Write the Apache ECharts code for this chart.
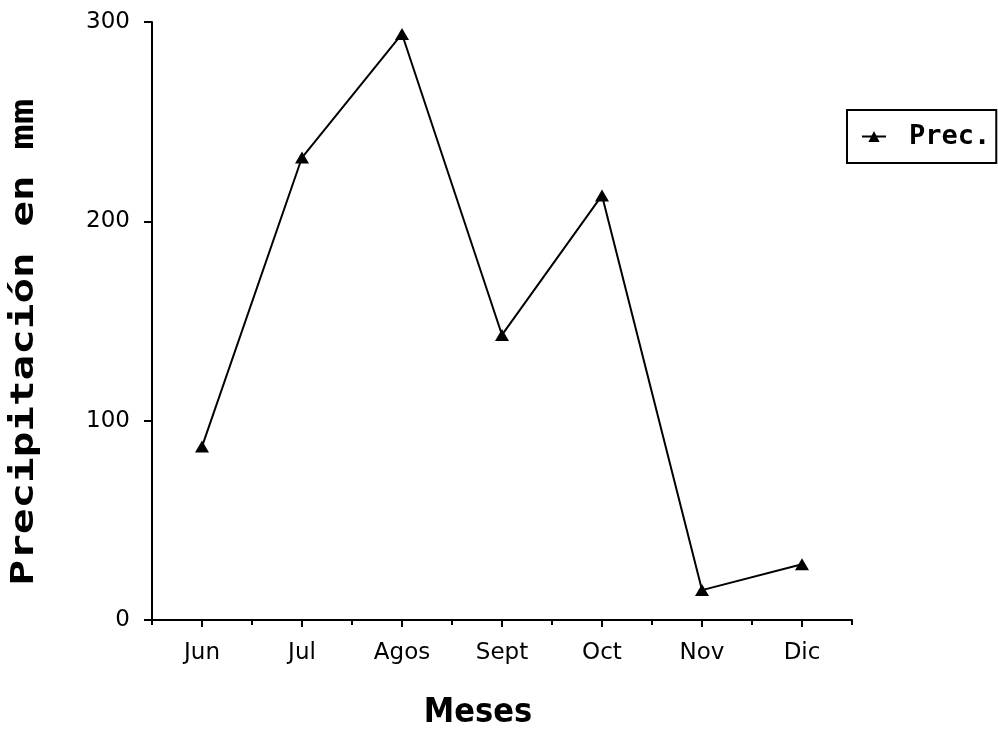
<!DOCTYPE html>
<html>
<head>
<meta charset="utf-8">
<script src="https://cdn.jsdelivr.net/npm/echarts@6/dist/echarts.min.js"></script>
<style>
html,body{margin:0;padding:0;background:#fff;}
#c{width:998px;height:736px;}
</style>
</head>
<body>
<div id="c"></div>
<script>
var categories = ['Jun', 'Jul', 'Agos', 'Sept', 'Oct', 'Nov', 'Dic'];
var precValues = [87, 232, 294, 143, 213, 15, 28];
var yTicks = [0, 100, 200, 300];
var seriesName = 'Prec.';
var xTitle = 'Meses';
var yTitle = 'Precipitación en mm';

var chart = echarts.init(document.getElementById('c'), null, {renderer: 'canvas'});
var labelFont = {color: '#000', fontFamily: 'DejaVu Sans', fontSize: 23};
chart.setOption({
  animation: false,
  backgroundColor: '#fff',
  grid: {left: 152, right: 146, top: 22, bottom: 116, containLabel: false},
  legend: {
    data: [seriesName],
    left: 847, top: 110,
    padding: [13, 6, 13, 14],
    borderColor: '#000', borderWidth: 2,
    itemWidth: 24, itemHeight: 14,
    textStyle: {color: '#000', fontFamily: 'DejaVu Sans Mono', fontWeight: 'bold', fontSize: 27, padding: [0, 0, 0, 18]}
  },
  xAxis: [{
    type: 'category', data: categories, boundaryGap: true,
    axisLine: {show: true, lineStyle: {color: '#000', width: 2}},
    axisTick: {show: true, alignWithLabel: true, length: 7, lineStyle: {color: '#000', width: 2}},
    axisLabel: Object.assign({show: true, margin: 22}, labelFont),
    splitLine: {show: false}
  }, {
    type: 'category', data: categories, boundaryGap: true, position: 'bottom',
    axisLine: {show: false},
    axisTick: {show: true, length: 5, lineStyle: {color: '#000', width: 2}},
    axisLabel: {show: false},
    splitLine: {show: false}
  }],
  yAxis: {
    type: 'value', min: yTicks[0], max: yTicks[yTicks.length - 1], interval: 100,
    axisLine: {show: true, lineStyle: {color: '#000', width: 2}},
    axisTick: {show: true, length: 8, lineStyle: {color: '#000', width: 2}},
    axisLabel: Object.assign({margin: 22}, labelFont),
    splitLine: {show: false}
  },
  graphic: [{
    type: 'text', x: 478, y: 713,
    style: {text: xTitle, font: 'bold 34px "DejaVu Sans Condensed"', fill: '#000', align: 'center', verticalAlign: 'middle'}
  }, {
    type: 'text', x: 25, y: 342, rotation: Math.PI / 2, scaleX: 1.33,
    style: {text: yTitle, font: 'bold 32px "DejaVu Sans Mono"', fill: '#000', align: 'center', verticalAlign: 'middle'}
  }],
  series: [{
    name: seriesName, type: 'line', data: precValues,
    symbol: 'triangle', symbolSize: [14, 12],
    lineStyle: {color: '#000', width: 2},
    itemStyle: {color: '#000'}
  }]
});
</script>
</body>
</html>
